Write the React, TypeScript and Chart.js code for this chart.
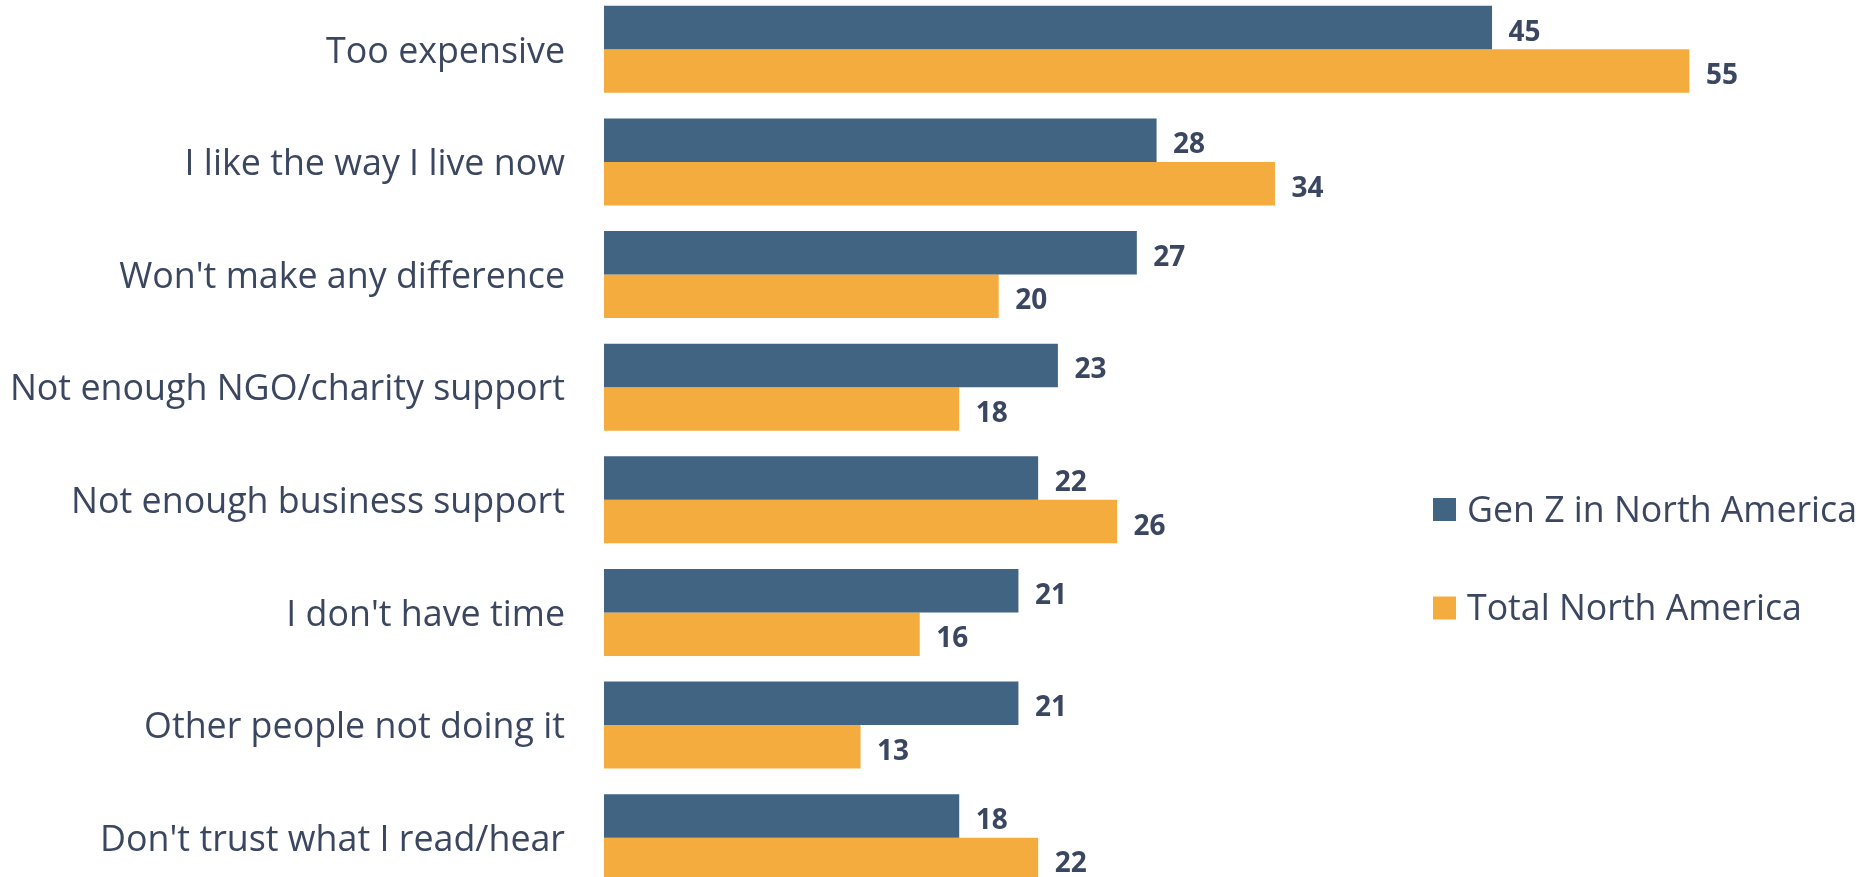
import React, { useEffect, useRef } from "react";
import { Chart, registerables } from "chart.js";

Chart.register(...registerables);

const categories = [
  "Too expensive",
  "I like the way I live now",
  "Won't make any difference",
  "Not enough NGO/charity support",
  "Not enough business support",
  "I don't have time",
  "Other people not doing it",
  "Don't trust what I read/hear",
];
const genZ = [45, 28, 27, 23, 22, 21, 21, 18];
const totalNA = [55, 34, 20, 18, 26, 16, 13, 22];
const seriesNames = ["Gen Z in North America", "Total North America"];
const colors = ["#416482", "#F5AC3F"];
const textColor = "#3B4760";
const FONT = "'Open Sans', 'Noto Sans', sans-serif";

const valueLabels = {
  id: "valueLabels",
  afterDatasetsDraw(chart: any) {
    const ctx = chart.ctx;
    ctx.save();
    ctx.font = `bold 28px ${FONT}`;
    ctx.fillStyle = textColor;
    ctx.textAlign = "left";
    ctx.textBaseline = "middle";
    chart.data.datasets.forEach((ds: any, di: number) => {
      const meta = chart.getDatasetMeta(di);
      meta.data.forEach((el: any, i: number) => {
        ctx.fillText(String(ds.data[i]), el.x + 16.5, el.y + 5);
      });
    });
    ctx.restore();
  },
};

const sideLegend = {
  id: "sideLegend",
  afterDraw(chart: any) {
    const ctx = chart.ctx;
    ctx.save();
    ctx.font = `35.7px ${FONT}`;
    ctx.textBaseline = "middle";
    ctx.textAlign = "left";
    const x0 = 1433;
    const yStart = 516.5;
    const step = 98.5;
    chart.data.datasets.forEach((ds: any, i: number) => {
      const cy = yStart + i * step;
      ctx.fillStyle = ds.backgroundColor;
      ctx.fillRect(x0, cy - 11.5, 23, 23);
      ctx.fillStyle = textColor;
      ctx.fillText(ds.label, x0 + 34, cy + 2);
    });
    ctx.restore();
  },
};

export default function App() {
  const ref = useRef<HTMLCanvasElement>(null);
  useEffect(() => {
    if (!ref.current) return;
    const chart = new Chart(ref.current, {
      type: "bar",
      data: {
        labels: categories,
        datasets: [
          { label: seriesNames[0], data: genZ, backgroundColor: colors[0], borderWidth: 0 },
          { label: seriesNames[1], data: totalNA, backgroundColor: colors[1], borderWidth: 0 },
        ],
      },
      options: {
        indexAxis: "y",
        responsive: false,
        maintainAspectRatio: false,
        animation: false,
        layout: { padding: 0 },
        datasets: { bar: { barPercentage: 1, categoryPercentage: 0.773 } },
        scales: {
          x: { display: false, min: 0, max: 64 },
          y: {
            afterFit(scale: any) {
              scale.width = 604;
              scale.paddingTop = 0;
              scale.paddingBottom = 0;
            },
            grid: { display: false, drawTicks: false },
            border: { display: false },
            ticks: {
              padding: 39,
              labelOffset: 3,
              color: textColor,
              font: { family: FONT, size: 35.8 },
            },
          },
        },
        plugins: {
          legend: { display: false },
          tooltip: { enabled: false },
        },
      },
      plugins: [valueLabels, sideLegend],
    });
    return () => chart.destroy();
  }, []);
  return (
    <div style={{ position: "absolute", left: 0, top: 0, width: 1867, height: 877, overflow: "hidden", background: "#fff" }}>
      <canvas ref={ref} width={1867} height={901} style={{ position: "absolute", left: 0, top: -7, display: "block" }} />
    </div>
  );
}
